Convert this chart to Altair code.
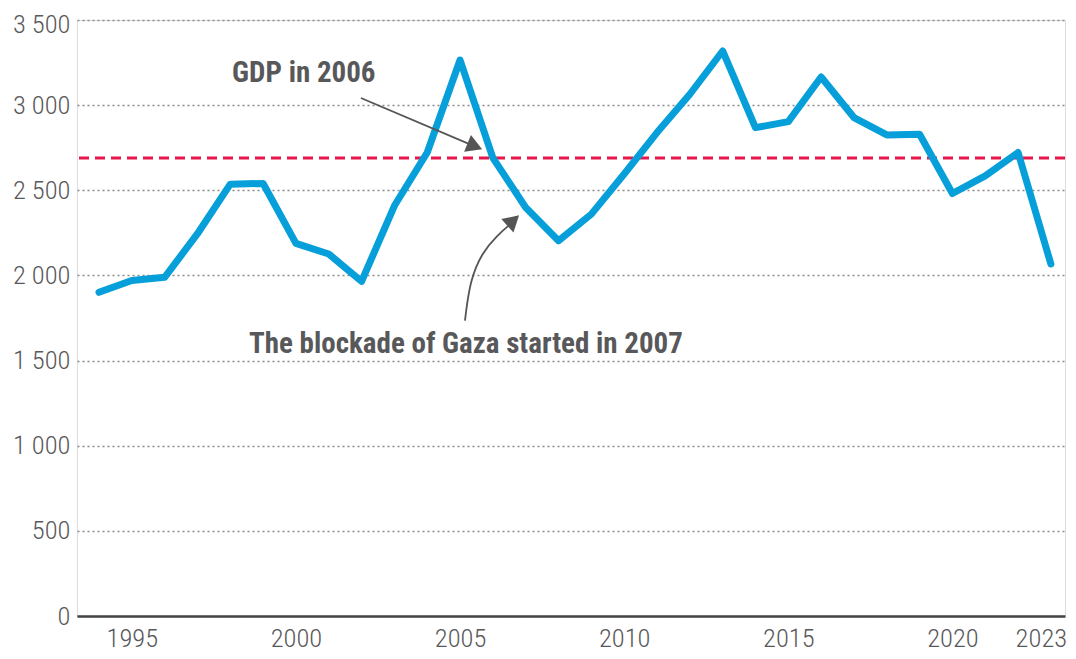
import altair as alt
import pandas as pd

years = list(range(1994, 2024))
gdp = [1901, 1970, 1989, 2245, 2536, 2540, 2188, 2126, 1965, 2409, 2722, 3265,
       2690, 2399, 2204, 2360, 2596, 2839, 3064, 3318, 2868, 2903, 3165, 2927,
       2825, 2829, 2481, 2585, 2722, 2067]
gdp_2006 = 2690

x_ticks = [1995, 2000, 2005, 2010, 2015, 2020, 2023]
y_ticks = [0, 500, 1000, 1500, 2000, 2500, 3000, 3500]

# annotation anchors (data space)
arrow1_x = [2001.98, 2005.45]
arrow1_y = [3042, 2758]
arrow2_x = [2005.15, 2005.30, 2005.67, 2006.12, 2006.55]
arrow2_y = [1735, 1970, 2134, 2233, 2304]
heads_x = [2005.45, 2006.62]
heads_y = [2758, 2322]
heads_angle = [112, 48]
labels = ["GDP in 2006", "The blockade of Gaza started in 2007"]
labels_x = [2000.24, 2005.18]
labels_y = [3189, 1600]

FONT = "Roboto Condensed, Liberation Sans Narrow, DejaVu Sans Condensed, Roboto"
GREY = "#58585a"

df = pd.DataFrame({"year": years, "gdp": gdp})
arrows = pd.DataFrame({
    "x": arrow1_x + arrow2_x,
    "y": arrow1_y + arrow2_y,
    "arrow": ["a"] * len(arrow1_x) + ["b"] * len(arrow2_x),
    "o": list(range(len(arrow1_x))) + list(range(len(arrow2_x))),
})
heads = pd.DataFrame({"x": heads_x, "y": heads_y, "angle": heads_angle})
texts = pd.DataFrame({"x": labels_x, "y": labels_y, "t": labels})

xs = alt.Scale(domain=[1993.33, 2023.43], nice=False, zero=False)
ys = alt.Scale(domain=[0, 3500], nice=False)

line = alt.Chart(df).mark_line(color="#069fd9", strokeWidth=7, strokeJoin="round", strokeCap="round").encode(
    x=alt.X("year:Q", scale=xs, title=None,
            axis=alt.Axis(values=x_ticks, format="d", ticks=False, grid=False,
                          domain=True, domainColor="#444444", domainWidth=2.5,
                          labelFont=FONT, labelFontSize=26.5, labelFontWeight=300,
                          labelColor=GREY, labelPadding=9, labelFlush=False,
                          labelOffset={"condition": {"test": "datum.value == 2023", "value": -10},
                                       "value": 0})),
    y=alt.Y("gdp:Q", scale=ys, title=None,
            axis=alt.Axis(values=y_ticks, ticks=False, domain=False, grid=True,
                          gridColor="#8a8a8a", gridDash=[2, 3], gridWidth=1.5,
                          labelExpr="replace(format(datum.value, ','), ',', ' ')",
                          labelFont=FONT, labelFontSize=26.5, labelFontWeight=300,
                          labelColor=GREY, labelPadding=7,
                          labelOffset={"condition": {"test": "datum.value == 3500", "value": 4},
                                       "value": 0})),
)

ref = alt.Chart(pd.DataFrame({"v": [gdp_2006]})).mark_rule(
    color="#e8174a", strokeWidth=3, strokeDash=[10, 6]).encode(y=alt.Y("v:Q", scale=ys))

arrow_lines = alt.Chart(arrows).mark_line(color="#555555", strokeWidth=1.8, interpolate="basis").encode(
    x=alt.X("x:Q", scale=xs), y=alt.Y("y:Q", scale=ys), detail="arrow:N", order="o:Q")

arrow_heads = alt.Chart(heads).mark_point(shape="triangle-up", filled=True, color="#555555",
                                          size=330, opacity=1).encode(
    x=alt.X("x:Q", scale=xs), y=alt.Y("y:Q", scale=ys), angle=alt.Angle("angle:Q", scale=None))

text = alt.Chart(texts).mark_text(font=FONT, fontSize=29, fontWeight="bold", color=GREY,
                                  align="center", baseline="middle").encode(
    x=alt.X("x:Q", scale=xs), y=alt.Y("y:Q", scale=ys), text="t:N")

chart = alt.layer(ref, line, arrow_lines, arrow_heads, text).properties(
    width=988, height=596,
    autosize=alt.AutoSizeParams(type="none"),
    padding={"left": 69, "top": 12, "right": 3, "bottom": 40},
).configure_view(stroke=None).configure(background="white")

chart.save("out.html", embed_options={"renderer": "svg", "actions": False})
